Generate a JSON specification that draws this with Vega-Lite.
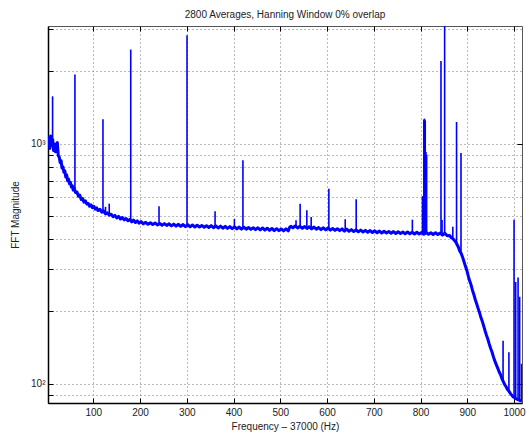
{
  "$schema": "https://vega.github.io/schema/vega-lite/v6.json",
  "width": 474,
  "height": 377,
  "autosize": {"type": "none"},
  "padding": {"left": 48, "top": 26, "right": 4, "bottom": 32},
  "background": "white",
  "title": {"text": "2800 Averages, Hanning Window 0% overlap", "fontSize": 10, "fontWeight": "normal", "font": "Liberation Sans", "color": "#222", "offset": 6},
  "config": {
    "view": {"stroke": "#555", "strokeWidth": 1},
    "axis": {"labelFont": "Liberation Sans", "titleFont": "Liberation Sans", "labelFontSize": 10, "titleFontSize": 10, "titleFontWeight": "normal", "labelColor": "#222", "titleColor": "#222", "gridDash": [1, 3], "gridColor": "#777", "gridOpacity": 1, "domainColor": "#000", "domainWidth": 1.5, "tickColor": "#000", "tickSize": -5, "labelPadding": 9}
  },
  "datasets": {
    "base": [
      {"f":3,"m":1000},{"f":5,"m":1065},{"f":7,"m":955},{"f":9,"m":1075},{"f":11,"m":985},{"f":13,"m":1040},{"f":15,"m":935},{"f":17,"m":995},{"f":19,"m":925},{"f":21,"m":985},{"f":23,"m":1010},{"f":25,"m":890},{"f":27,"m":880},{"f":29,"m":835},{"f":31,"m":850},{"f":33,"m":790},{"f":35,"m":800},{"f":37,"m":760},{"f":39,"m":770},{"f":41,"m":725},{"f":43,"m":740},{"f":45,"m":700},{"f":47,"m":712},{"f":49,"m":680},{"f":51,"m":690},{"f":53,"m":660},{"f":55,"m":668},{"f":57,"m":640},{"f":59,"m":652},{"f":62,"m":625},{"f":65,"m":628},{"f":68,"m":603},{"f":71,"m":610},{"f":74,"m":585},{"f":77,"m":590},{"f":80,"m":570},{"f":83,"m":578},{"f":86,"m":560},{"f":89,"m":563},{"f":92,"m":548},{"f":95,"m":556},{"f":98,"m":541},{"f":101,"m":548},{"f":104,"m":533},{"f":107,"m":540},{"f":110,"m":526},{"f":114,"m":532},{"f":118,"m":518},{"f":122,"m":524},{"f":126,"m":509},{"f":130,"m":515},{"f":134,"m":503},{"f":138,"m":508},{"f":142,"m":496},{"f":146,"m":502},{"f":150,"m":490},{"f":154,"m":497},{"f":158,"m":485},{"f":162,"m":492},{"f":166,"m":481},{"f":170,"m":487},{"f":174,"m":477},{"f":178,"m":483},{"f":182,"m":472},{"f":186,"m":480},{"f":190,"m":469},{"f":194,"m":476},{"f":198,"m":466},{"f":202,"m":473},{"f":207,"m":463},{"f":212,"m":470},{"f":217,"m":461},{"f":222,"m":468},{"f":227,"m":460},{"f":232,"m":467},{"f":237,"m":458},{"f":242,"m":465},{"f":247,"m":457},{"f":252,"m":464},{"f":257,"m":456},{"f":262,"m":463},{"f":267,"m":454},{"f":272,"m":462},{"f":277,"m":453},{"f":282,"m":461},{"f":287,"m":452},{"f":292,"m":460},{"f":297,"m":451},{"f":302,"m":459},{"f":307,"m":450},{"f":312,"m":458},{"f":317,"m":449},{"f":322,"m":457},{"f":327,"m":449},{"f":332,"m":456},{"f":337,"m":448},{"f":342,"m":455},{"f":347,"m":447},{"f":352,"m":455},{"f":357,"m":446},{"f":362,"m":454},{"f":367,"m":445},{"f":372,"m":453},{"f":377,"m":444},{"f":382,"m":452},{"f":387,"m":443},{"f":392,"m":451},{"f":397,"m":442},{"f":402,"m":450},{"f":407,"m":441},{"f":412,"m":449},{"f":417,"m":440},{"f":422,"m":448},{"f":427,"m":440},{"f":432,"m":447},{"f":437,"m":439},{"f":442,"m":446},{"f":447,"m":438},{"f":452,"m":446},{"f":457,"m":437},{"f":462,"m":445},{"f":467,"m":436},{"f":472,"m":444},{"f":477,"m":435},{"f":482,"m":443},{"f":487,"m":434},{"f":492,"m":442},{"f":497,"m":434},{"f":502,"m":441},{"f":507,"m":433},{"f":512,"m":441},{"f":517,"m":433},{"f":520,"m":448},{"f":523,"m":452},{"f":527,"m":446},{"f":532,"m":454},{"f":537,"m":445},{"f":542,"m":452},{"f":547,"m":444},{"f":552,"m":451},{"f":557,"m":443},{"f":562,"m":450},{"f":567,"m":441},{"f":572,"m":449},{"f":577,"m":440},{"f":582,"m":447},{"f":587,"m":438},{"f":592,"m":446},{"f":597,"m":437},{"f":602,"m":445},{"f":607,"m":436},{"f":612,"m":443},{"f":617,"m":435},{"f":622,"m":442},{"f":627,"m":434},{"f":632,"m":441},{"f":637,"m":432},{"f":642,"m":440},{"f":647,"m":431},{"f":652,"m":438},{"f":657,"m":430},{"f":662,"m":437},{"f":667,"m":429},{"f":672,"m":436},{"f":677,"m":428},{"f":682,"m":435},{"f":687,"m":427},{"f":692,"m":434},{"f":697,"m":426},{"f":702,"m":433},{"f":707,"m":425},{"f":712,"m":432},{"f":717,"m":424},{"f":722,"m":431},{"f":727,"m":424},{"f":732,"m":430},{"f":737,"m":423},{"f":742,"m":430},{"f":747,"m":422},{"f":752,"m":429},{"f":757,"m":422},{"f":762,"m":428},{"f":767,"m":421},{"f":772,"m":428},{"f":777,"m":421},{"f":782,"m":427},{"f":787,"m":420},{"f":792,"m":427},{"f":797,"m":420},{"f":802,"m":426},{"f":807,"m":419},{"f":812,"m":426},{"f":817,"m":419},{"f":822,"m":425},{"f":827,"m":418},{"f":832,"m":425},{"f":837,"m":418},{"f":842,"m":424},{"f":847,"m":416},{"f":852,"m":423},{"f":857,"m":413},{"f":862,"m":414},{"f":866,"m":405},{"f":869,"m":402},{"f":872,"m":396},{"f":875,"m":390},{"f":878,"m":380},{"f":881,"m":370},{"f":884,"m":356},{"f":887,"m":348},{"f":890,"m":336},{"f":893,"m":322},{"f":896,"m":308},{"f":899,"m":296},{"f":902,"m":281},{"f":905,"m":268},{"f":908,"m":258},{"f":911,"m":245},{"f":914,"m":235},{"f":917,"m":224},{"f":920,"m":215},{"f":923,"m":206},{"f":926,"m":198},{"f":929,"m":189},{"f":932,"m":182},{"f":935,"m":174},{"f":938,"m":166},{"f":941,"m":159},{"f":944,"m":153},{"f":947,"m":146},{"f":950,"m":140},{"f":953,"m":135},{"f":956,"m":129},{"f":959,"m":124},{"f":962,"m":120},{"f":965,"m":116},{"f":968,"m":112},{"f":971,"m":109},{"f":974,"m":105},{"f":977,"m":102},{"f":980,"m":99},{"f":983,"m":97},{"f":986,"m":94.5},{"f":989,"m":93},{"f":992,"m":91},{"f":995,"m":89.5},{"f":998,"m":88},{"f":1001,"m":87.5},{"f":1004,"m":86.5},{"f":1007,"m":86},{"f":1010,"m":85.5},{"f":1013,"m":85},{"f":1017,"m":84.5}
    ],
    "spikes": [
      {"f":12.8,"lo":1000,"hi":1574},
      {"f":60.6,"lo":650,"hi":1939},
      {"f":120.6,"lo":520,"hi":1262},
      {"f":126,"lo":512,"hi":545},
      {"f":134,"lo":505,"hi":562},
      {"f":180,"lo":480,"hi":2465},
      {"f":240.5,"lo":462,"hi":548},
      {"f":300.4,"lo":456,"hi":2825},
      {"f":360.4,"lo":452,"hi":522},
      {"f":401.7,"lo":450,"hi":485},
      {"f":420,"lo":448,"hi":852},
      {"f":533.6,"lo":449,"hi":479},
      {"f":542.4,"lo":449,"hi":562},
      {"f":556.7,"lo":448,"hi":527},
      {"f":566,"lo":447,"hi":494},
      {"f":603.8,"lo":445,"hi":649},
      {"f":638.8,"lo":440,"hi":484},
      {"f":662.3,"lo":438,"hi":586},
      {"f":782.5,"lo":426,"hi":482},
      {"f":804,"lo":425,"hi":603},
      {"f":805.5,"lo":425,"hi":603},
      {"f":807,"lo":425,"hi":1260},
      {"f":808.5,"lo":425,"hi":1271},
      {"f":810,"lo":425,"hi":1250},
      {"f":811.5,"lo":425,"hi":923},
      {"f":813,"lo":425,"hi":900},
      {"f":843.7,"lo":424,"hi":2209},
      {"f":846,"lo":424,"hi":480},
      {"f":851.5,"lo":423,"hi":3090},
      {"f":869,"lo":405,"hi":450},
      {"f":877,"lo":385,"hi":1230},
      {"f":886.5,"lo":352,"hi":913},
      {"f":976.5,"lo":103,"hi":151},
      {"f":989,"lo":93,"hi":135},
      {"f":1000,"lo":88,"hi":482},
      {"f":1003.5,"lo":87,"hi":265},
      {"f":1008.6,"lo":86,"hi":277},
      {"f":1012,"lo":85.5,"hi":230},
      {"f":1016,"lo":85,"hi":121}
    ]
  },
  "layer": [
    {
      "data": {"name": "base"},
      "mark": {"type": "line", "color": "#0000FF", "strokeWidth": 3, "strokeJoin": "round", "clip": true},
      "encoding": {
        "x": {"field": "f", "type": "quantitative", "scale": {"domain": [3, 1017], "nice": false, "zero": false},
          "axis": {"values": [100,200,300,400,500,600,700,800,900,1000], "format": "d", "title": "Frequency – 37000 (Hz)", "grid": true, "titlePadding": 4}},
        "y": {"field": "m", "type": "quantitative", "scale": {"type": "log", "domain": [83, 3090], "nice": false, "zero": false},
          "axis": {"values": [90,100,200,300,400,500,600,700,800,900,1000,2000,3000], "labelExpr": "datum.value == 100 ? '10²' : datum.value == 1000 ? '10³' : ''", "title": "FFT Magnitude", "grid": true, "labelPadding": 8, "titlePadding": 10}}
      }
    },
    {
      "data": {"name": "spikes"},
      "mark": {"type": "rule", "color": "#0000FF", "strokeWidth": 1.6, "clip": true},
      "encoding": {
        "x": {"field": "f", "type": "quantitative", "axis": {"orient": "top", "values": [100,200,300,400,500,600,700,800,900,1000], "labels": false, "title": null, "grid": false, "domain": false}},
        "y": {"field": "lo", "type": "quantitative", "axis": {"orient": "right", "values": [100,1000], "labels": false, "title": null, "grid": false, "domain": false}},
        "y2": {"field": "hi"}
      }
    }
  ],
  "resolve": {"axis": {"x": "independent", "y": "independent"}}
}
